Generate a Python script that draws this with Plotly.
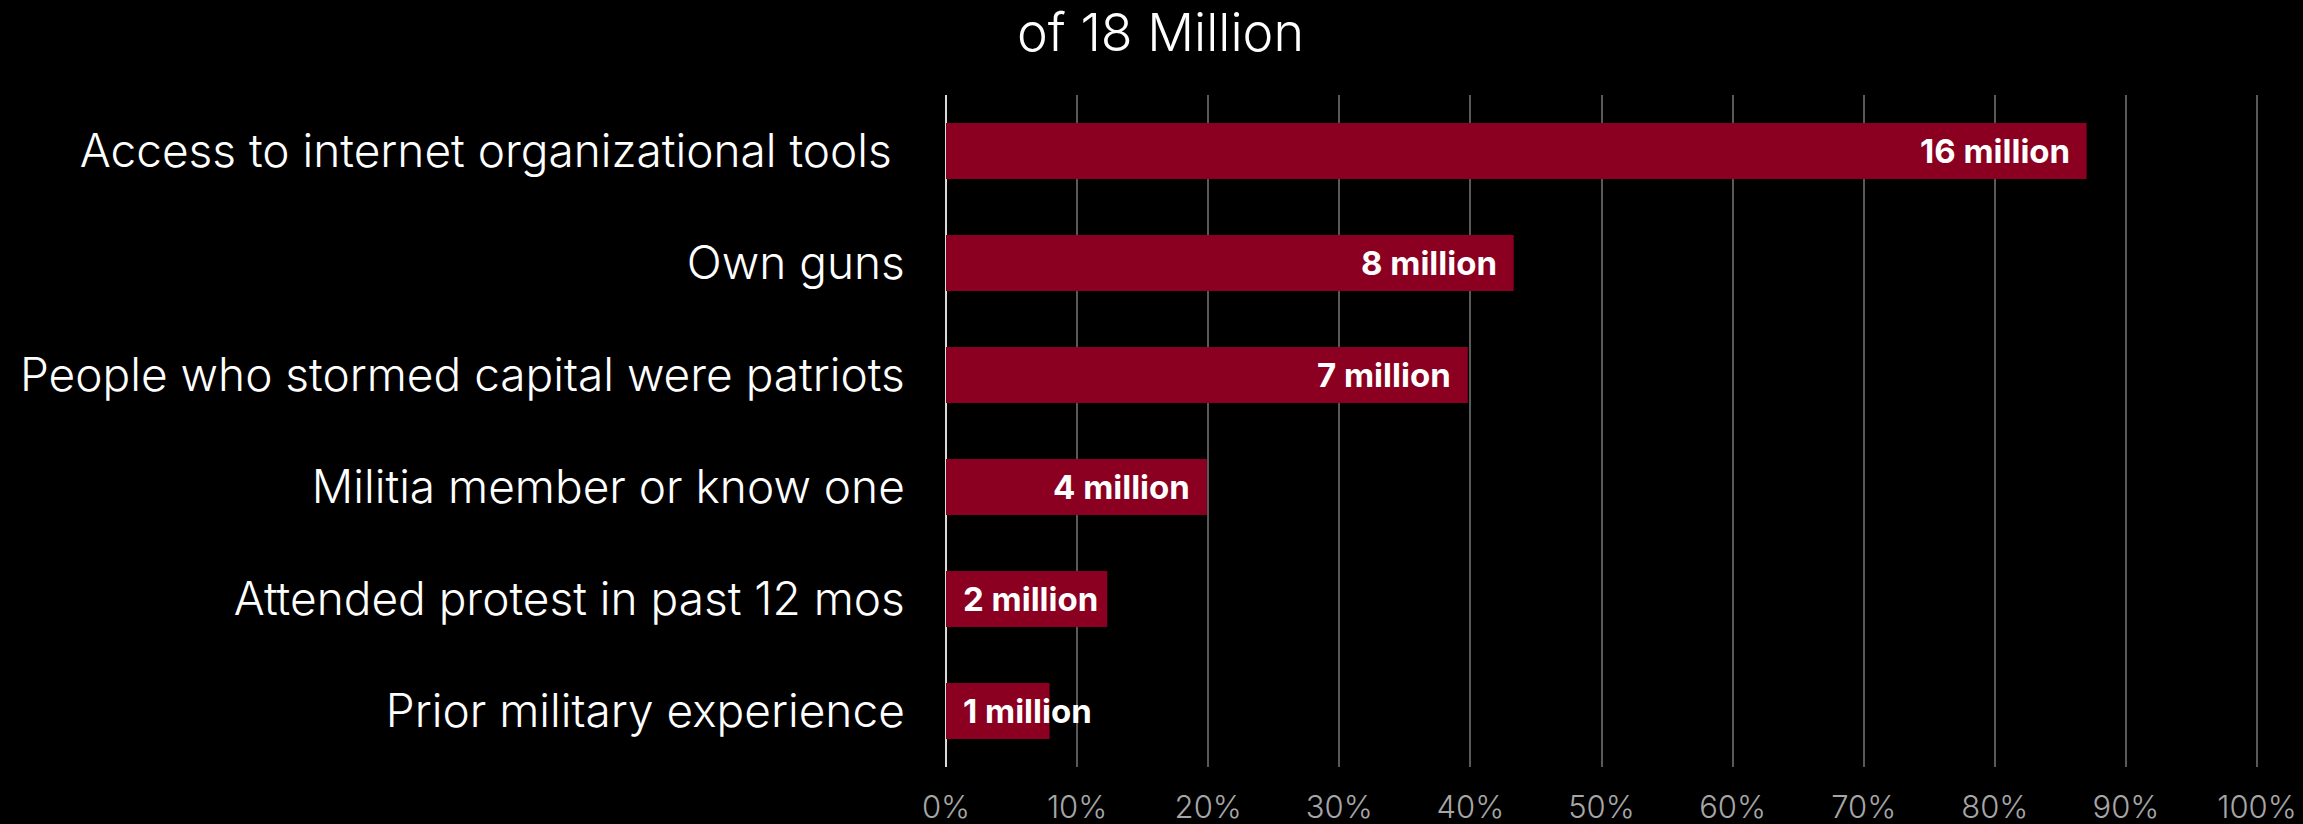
import plotly.graph_objects as go

categories = [
    "Access to internet organizational tools ",
    "Own guns",
    "People who stormed capital were patriots",
    "Militia member or know one",
    "Attended protest in past 12 mos",
    "Prior military experience",
]
percent_values = [87, 43.3, 39.8, 19.9, 12.3, 7.9]
value_labels = ["16 million", "8 million", "7 million", "4 million", "2 million", "1 million"]
x_ticks = [0, 10, 20, 30, 40, 50, 60, 70, 80, 90, 100]
x_tick_labels = [f"{t}%" for t in x_ticks]
title_text = "of 18 Million"

BAR = "#8B0021"
FONT = "Inter"

fig = go.Figure()
fig.add_trace(go.Bar(
    x=percent_values,
    y=categories,
    orientation="h",
    marker=dict(color=BAR, line=dict(width=0)),
    width=0.5,
    hoverinfo="skip",
))

for cat, val, lab in zip(categories, percent_values, value_labels):
    if val < 15:
        fig.add_annotation(x=0, y=cat, text=lab, xanchor="left", xshift=15,
                           showarrow=False,
                           font=dict(family=FONT, size=33, color="white", weight=700))
    else:
        fig.add_annotation(x=val, y=cat, text=lab, xanchor="right", xshift=-15,
                           showarrow=False,
                           font=dict(family=FONT, size=33, color="white", weight=700))

fig.add_annotation(text=title_text, xref="paper", yref="paper",
                   x=0.163, y=1, yshift=63, xanchor="center", yanchor="middle",
                   showarrow=False,
                   font=dict(family=FONT, size=52, color="white", weight=300))

fig.update_layout(
    width=2303, height=824,
    paper_bgcolor="black", plot_bgcolor="black",
    margin=dict(l=946, r=44, t=95, b=57),
    showlegend=False,
    bargap=0.5,
    xaxis=dict(
        range=[0, 100.15], tickvals=x_ticks, ticktext=x_tick_labels,
        showgrid=True, gridcolor="#595959", gridwidth=2,
        zeroline=True, zerolinecolor="#d9d9d9", zerolinewidth=2,
        ticks="outside", ticklen=13, tickcolor="black",
        tickfont=dict(family=FONT, size=31, color="#a6a6a6", weight=300),
        automargin=False,
        fixedrange=True,
    ),
    yaxis=dict(
        autorange="reversed",
        categoryorder="array", categoryarray=categories,
        showgrid=False, zeroline=False,
        ticks="outside", ticklen=31, tickcolor="black",
        tickfont=dict(family=FONT, size=46, color="white", weight=300),
        automargin=False,
        fixedrange=True,
    ),
)

fig.write_html(
    "out.html",
    config={"displayModeBar": False},
    post_script="document.body.style.margin='0';document.body.style.background='black';",
)
